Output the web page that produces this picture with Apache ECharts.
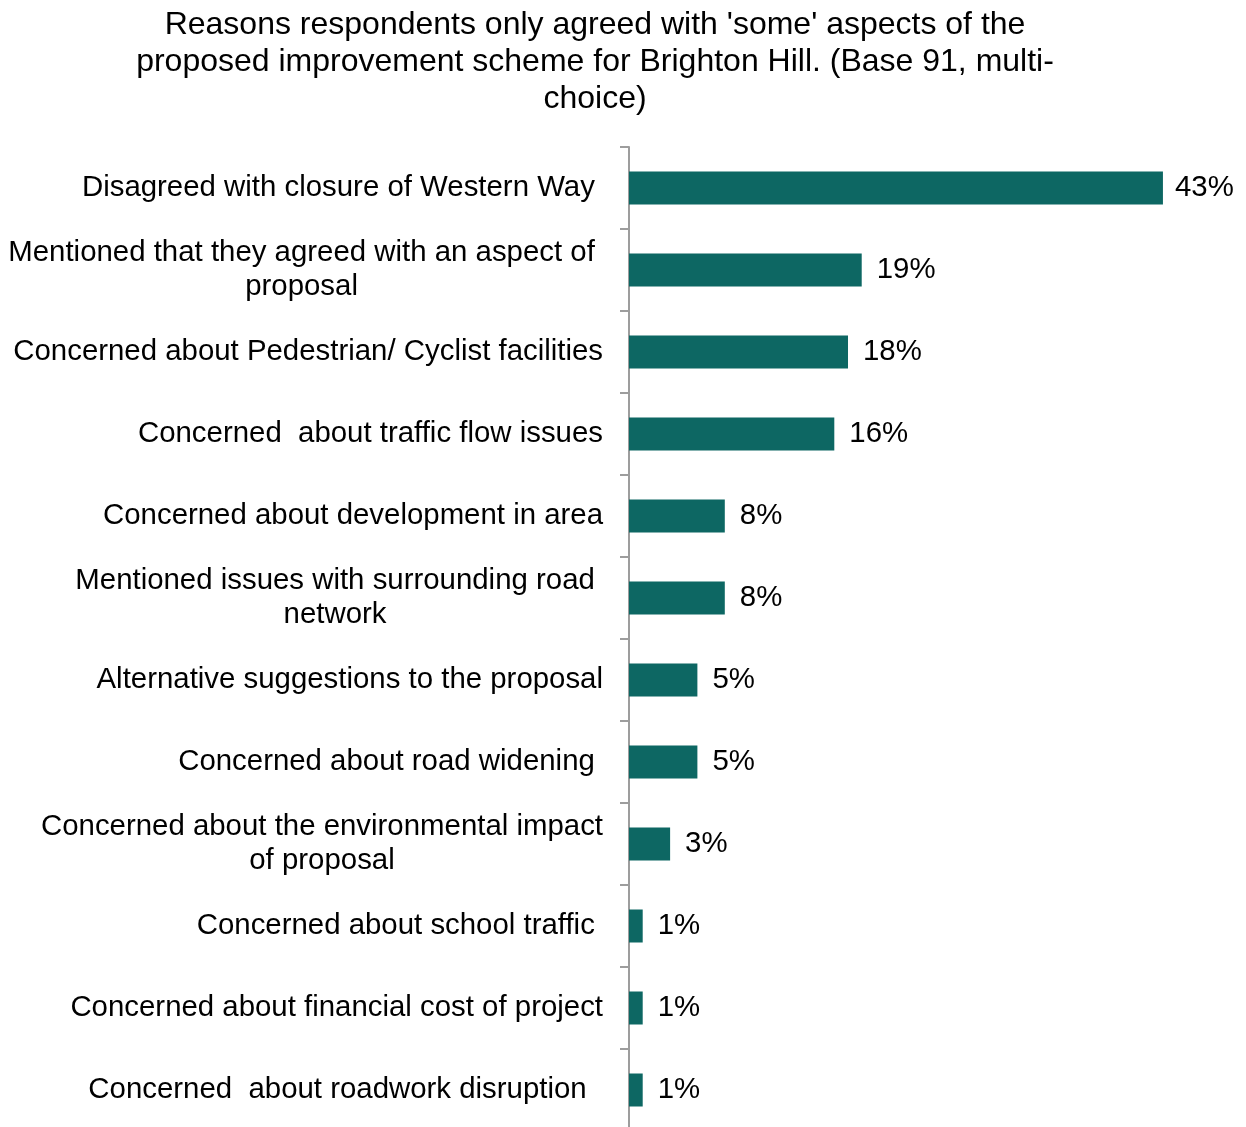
<!DOCTYPE html>
<html>
<head>
<meta charset="utf-8">
<script src="https://cdn.jsdelivr.net/npm/echarts@6/dist/echarts.min.js"></script>
<style>
  html, body { margin: 0; padding: 0; background: #ffffff; }
  #chart { width: 1246px; height: 1127px; }
</style>
</head>
<body>
<div id="chart"></div>
<script>
// ---- Data ----
const titleText = "Reasons respondents only agreed with 'some' aspects of the\nproposed improvement scheme for Brighton Hill. (Base 91, multi-\nchoice)";

const categories = [
  'Disagreed with closure of Western Way ',
  'Mentioned that they agreed with an aspect of \nproposal ',
  'Concerned about Pedestrian/ Cyclist facilities',
  'Concerned  about traffic flow issues',
  'Concerned about development in area',
  'Mentioned issues with surrounding road \nnetwork ',
  'Alternative suggestions to the proposal',
  'Concerned about road widening ',
  'Concerned about the environmental impact\nof proposal',
  'Concerned about school traffic ',
  'Concerned about financial cost of project',
  'Concerned  about roadwork disruption  '
];

// percentages of base 91
const values = [42.86, 18.68, 17.58, 16.48, 7.69, 7.69, 5.49, 5.49, 3.30, 1.10, 1.10, 1.10];

// ---- Chart ----
const FONT = '"Liberation Sans", Arial, Helvetica, sans-serif';
const BAR_COLOR = '#0d6763';
const AXIS_COLOR = '#9d9d9d';

const chart = echarts.init(document.getElementById('chart'), null, { renderer: 'canvas' });

chart.setOption({
  backgroundColor: '#ffffff',
  animation: false,
  title: {
    text: titleText,
    left: 595,
    top: 7,
    padding: 0,
    textAlign: 'center',
    textStyle: {
      fontFamily: FONT,
      fontSize: 32,
      fontWeight: 'normal',
      color: '#000000',
      lineHeight: 37
    }
  },
  grid: {
    left: 629,
    top: 147,
    width: 560.6,
    height: 984,
    outerBoundsMode: 'none',
    containLabel: false
  },
  xAxis: {
    type: 'value',
    min: 0,
    max: 45,
    show: false
  },
  yAxis: {
    type: 'category',
    inverse: true,
    data: categories,
    axisLine: { show: true, lineStyle: { color: AXIS_COLOR, width: 2 } },
    axisTick: { show: true, inside: false, length: 9, lineStyle: { color: AXIS_COLOR, width: 2 } },
    splitLine: { show: false },
    axisLabel: {
      interval: 0,
      margin: 26,
      color: '#000000',
      fontFamily: FONT,
      fontSize: 29.4,
      lineHeight: 34,
      formatter: function (v) {
        return v.split('\n').map(function (l) { return '{a|' + l + '}'; }).join('\n');
      },
      rich: {
        a: {
          align: 'center',
          fontFamily: FONT,
          fontSize: 29.4,
          lineHeight: 34,
          color: '#000000'
        }
      }
    }
  },
  series: [{
    type: 'bar',
    data: values.map(function (v, i) {
      return i === 0 ? { value: v, label: { distance: 12 } } : v;
    }),
    barWidth: 33,
    itemStyle: { color: BAR_COLOR },
    label: {
      show: true,
      position: 'right',
      distance: 15,
      color: '#000000',
      fontFamily: FONT,
      fontSize: 29.4,
      formatter: function (p) { return Math.round(p.value) + '%'; }
    }
  }]
});
</script>
</body>
</html>
